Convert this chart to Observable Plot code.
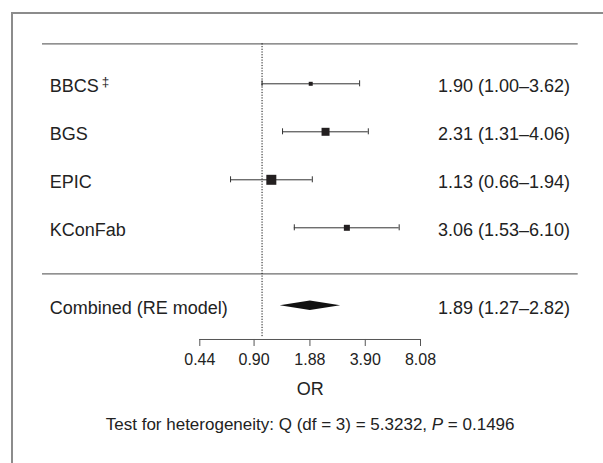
<!DOCTYPE html>
<html><head><meta charset="utf-8">
<script src="https://cdn.jsdelivr.net/npm/d3@7"></script>
<script src="https://cdn.jsdelivr.net/npm/@observablehq/plot@0.6"></script>
<style>
html,body{margin:0;padding:0;background:#fff;overflow:hidden;}
#wrap{position:relative;width:603px;height:463px;overflow:hidden;}
#border{position:absolute;left:11px;top:12px;width:800px;height:800px;border:2px solid #8c8c8c;box-sizing:border-box;}
#chart{position:absolute;left:0;top:0;}
</style></head><body>
<div id="wrap"><div id="border"></div><div id="chart"></div></div>
<script>
// ---- data ----
const studies = ["BBCS‡", "BGS", "EPIC", "KConFab"];
const oddsRatio = [1.90, 2.31, 1.13, 3.06];
const lower = [1.00, 1.31, 0.66, 1.53];
const upper = [3.62, 4.06, 1.94, 6.10];
const weights = [7.4, 29.6, 46.3, 16.7];
const combinedLabel = ["Combined (RE model)"];
const combinedEst = [1.89];
const combinedLower = [1.27];
const combinedUpper = [2.82];
const tickValues = [0.44, 0.90, 1.88, 3.90, 8.08];
const axisLabel = "OR";
const caption = "Test for heterogeneity: Q (df = 3) = 5.3232, P = 0.1496";

// ---- layout (row units) ----
const topRow = 0.167, sepRow = 4.958, combinedRow = 5.625, dotEndRow = 6.28,
      axisRow = 6.327, tickLabelRow = 6.75, orRow = 7.36, captionRow = 8.1, diamondHalf = 0.098;

const fmt = v => v.toFixed(2);
const rows = studies.map((s, i) => ({
  label: s, row: i + 1, est: oddsRatio[i], lo: lower[i], hi: upper[i], w: weights[i],
  txt: `${fmt(oddsRatio[i])} (${fmt(lower[i])}–${fmt(upper[i])})`
}));
const comb = {label: combinedLabel[0], row: combinedRow, est: combinedEst[0], lo: combinedLower[0], hi: combinedUpper[0],
  txt: `${fmt(combinedEst[0])} (${fmt(combinedLower[0])}–${fmt(combinedUpper[0])})`};
const labelRows = [...rows, comb];
const diamond = [
  {x: comb.lo, y1: comb.row, y2: comb.row},
  {x: comb.est, y1: comb.row - diamondHalf, y2: comb.row + diamondHalf},
  {x: comb.hi, y1: comb.row, y2: comb.row}
];
const xMid = Math.sqrt(tickValues[0] * tickValues[tickValues.length - 1]);

const plot = Plot.plot({
  width: 603, height: 463,
  marginLeft: 42, marginRight: 25.3, marginTop: 20, marginBottom: 124,
  style: {fontFamily: "'Liberation Sans', Arial, Helvetica, sans-serif", fontSize: "18px", color: "#222", background: "transparent"},
  x: {type: "log", domain: [tickValues[0], tickValues[tickValues.length - 1]], range: [199.3, 420], axis: null},
  y: {domain: [1, 4], range: [83.3, 227.3], axis: null},
  r: {type: "sqrt", domain: [0, Math.max(...weights)], range: [0, 10 / Math.sqrt(Math.PI)]},
  marks: [
    Plot.ruleY([topRow, sepRow], {stroke: "#6d6d6d", strokeWidth: 1.2}),
    Plot.ruleX([1], {y1: topRow, y2: dotEndRow, stroke: "#111", strokeDasharray: "1.2,1.5"}),
    Plot.ruleY(rows, {y: "row", x1: "lo", x2: "hi", stroke: "#333", strokeWidth: 1}),
    Plot.ruleX(rows, {x: "lo", y1: "row", y2: "row", insetTop: -3, insetBottom: -3, stroke: "#333"}),
    Plot.ruleX(rows, {x: "hi", y1: "row", y2: "row", insetTop: -3, insetBottom: -3, stroke: "#333"}),
    Plot.dot(rows, {x: "est", y: "row", r: "w", symbol: "square", fill: "#231f20"}),
    Plot.areaY(diamond, {x: "x", y1: "y1", y2: "y2", fill: "#111"}),
    Plot.text(labelRows, {y: "row", text: "label", frameAnchor: "left", textAnchor: "start", dx: 7.3, dy: 2.6, fontSize: 18, fill: "#222"}),
    Plot.text(labelRows, {y: "row", text: "txt", frameAnchor: "right", textAnchor: "end", dx: -8.2, dy: 2.6, fontSize: 18, fill: "#222"}),
    Plot.ruleY([axisRow], {x1: tickValues[0], x2: tickValues[tickValues.length - 1], stroke: "#555"}),
    Plot.ruleX(tickValues, {x: d => d, y1: axisRow, y2: axisRow, insetTop: 0, insetBottom: -7, stroke: "#555"}),
    Plot.text(tickValues, {x: d => d, y: tickLabelRow, text: fmt, fontSize: 16, fill: "#222"}),
    Plot.text([axisLabel], {x: xMid, y: orRow, text: d => d, fontSize: 18, fill: "#222"}),
    Plot.text([caption], {x: xMid, y: captionRow, text: d => d, fontSize: 17, fill: "#222"})
  ]
});
document.getElementById("chart").appendChild(plot);

// superscript and italic post-processing
d3.select(plot).selectAll("text").each(function () {
  const s = this.textContent;
  const t = d3.select(this);
  if (s.includes("‡")) {
    t.text(s.replace("‡", ""));
    t.append("tspan").attr("dx", 3).attr("dy", -6.5).attr("font-size", "0.75em").text("‡");
  } else if (s === caption) {
    const idx = s.indexOf("P =");
    t.text(null);
    t.append("tspan").text(s.slice(0, idx));
    t.append("tspan").attr("font-style", "italic").text("P");
    t.append("tspan").text(s.slice(idx + 1));
  }
});
</script>
</body></html>
